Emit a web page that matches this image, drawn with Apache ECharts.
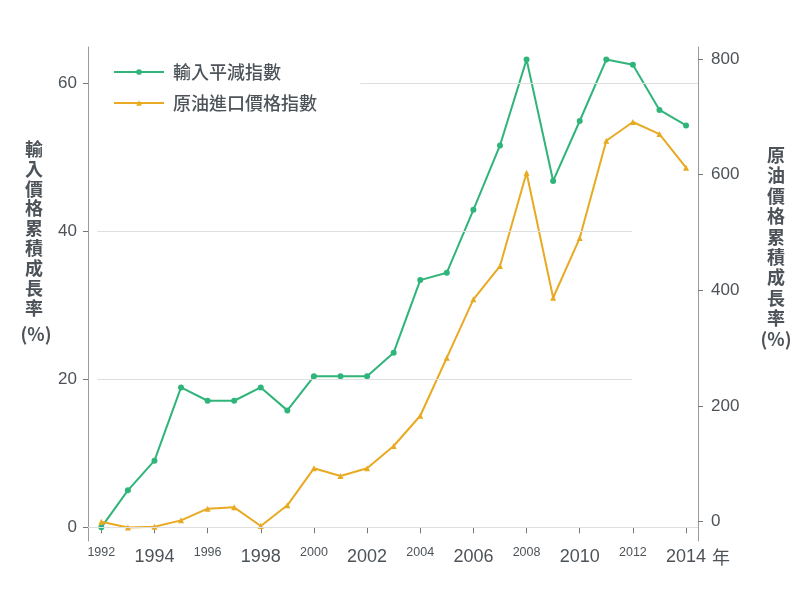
<!DOCTYPE html>
<html>
<head>
<meta charset="utf-8">
<script src="https://cdn.jsdelivr.net/npm/echarts@6/dist/echarts.min.js"></script>
<style>
  html, body { margin: 0; padding: 0; background: #fff; }
  #chart { width: 800px; height: 591px; }
</style>
</head>
<body>
<div id="chart"></div>
<script>
// 年份
const years = [1992, 1993, 1994, 1995, 1996, 1997, 1998, 1999, 2000, 2001, 2002,
  2003, 2004, 2005, 2006, 2007, 2008, 2009, 2010, 2011, 2012, 2013, 2014];
// 輸入平減指數 累積成長率 (%), 左軸
const importDeflator = [0, 5.0, 9.0, 18.9, 17.1, 17.1, 18.9, 15.8, 20.4, 20.4, 20.4,
  23.6, 33.4, 34.4, 42.9, 51.6, 63.2, 46.8, 54.9, 63.2, 62.5, 56.4, 54.3];
// 原油進口價格指數 累積成長率 (%), 右軸
const oilPrice = [0, -10, -8.6, 2.3, 22.5, 24.8, -7.4, 28.3, 92.3, 79, 92.3,
  130.9, 183.2, 283.5, 384.4, 442, 603.3, 387.2, 490.4, 658.6, 691, 670.2, 612];
// 刻度
const xTicks = [1992, 1994, 1996, 1998, 2000, 2002, 2004, 2006, 2008, 2010, 2012, 2014];
const leftTicks = [0, 20, 40, 60];
const rightTicks = [0, 200, 400, 600, 800];

const textColor = '#4d5358';
const numFont = "'Liberation Sans', 'Noto Sans CJK TC', sans-serif";
const cjkFont = "'Noto Sans CJK TC', sans-serif";

const chart = echarts.init(document.getElementById('chart'));

// 參考線 (左軸)
const gridLines = [
  [[1991.5, 0], [2014.45, 0]],
  [[1991.85, 20], [2011.97, 20]],
  [[1991.85, 40], [2011.97, 40]],
  [[2001.74, 60], [2014.45, 60]],
].map(p => [{ coord: p[0] }, { coord: p[1] }]);

const option = {
  animation: false,
  backgroundColor: '#fff',
  grid: { left: 88, right: 102, top: 47, bottom: 50 },
  legend: {
    orient: 'vertical',
    left: 108,
    top: 58,
    itemWidth: 50,
    itemHeight: 7,
    itemGap: 13,
    textStyle: { fontSize: 18, color: textColor, fontFamily: cjkFont, fontWeight: 500, padding: [0, 0, 0, 4] },
    data: ['輸入平減指數', '原油進口價格指數'],
  },
  xAxis: {
    type: 'value',
    min: 1991.5,
    max: 2014.45,
    axisLine: { lineStyle: { color: '#9a9a9a' } },
    axisTick: { customValues: xTicks, length: 6, lineStyle: { color: '#777' } },
    splitLine: { show: false },
    axisLabel: {
      customValues: xTicks,
      margin: 6,
      color: textColor,
      fontFamily: numFont,
      formatter: v => {
        const big = ((v - 1992) / 2) % 2 === 1;
        if (v === 2014) return '{pad|}{b|2014}{y|年}';
        return big ? '{b|' + v + '}' : '{s|' + v + '}';
      },
      rich: {
        s: { fontSize: 12.5, lineHeight: 12, color: textColor, fontFamily: numFont },
        b: { fontSize: 18, lineHeight: 18, padding: [3, 0, 0, 0], color: textColor, fontFamily: numFont },
        pad: { width: 24 },
        y: { fontSize: 18, lineHeight: 18, padding: [3, 0, 0, 6], color: textColor, fontFamily: cjkFont },
      },
    },
  },
  yAxis: [
    {
      type: 'value',
      min: -1.85,
      max: 64.9,
      position: 'left',
      axisLine: { show: true, lineStyle: { color: '#9a9a9a' } },
      axisTick: { show: true, customValues: leftTicks, length: 5, lineStyle: { color: '#777' } },
      axisLabel: { customValues: leftTicks, margin: 11, fontSize: 17, color: textColor, fontFamily: numFont },
      splitLine: { show: false },
    },
    {
      type: 'value',
      min: -33.4,
      max: 820.7,
      position: 'right',
      axisLine: { show: true, lineStyle: { color: '#9a9a9a' } },
      axisTick: { show: true, customValues: rightTicks, length: 5, lineStyle: { color: '#777' } },
      axisLabel: { customValues: rightTicks, margin: 13, fontSize: 17, color: textColor, fontFamily: numFont },
      splitLine: { show: false },
    },
  ],
  series: [
    {
      name: '輸入平減指數',
      type: 'line',
      yAxisIndex: 0,
      data: years.map((y, i) => [y, importDeflator[i]]),
      symbol: 'circle',
      symbolSize: 6,
      lineStyle: { width: 2, color: '#2fb47a' },
      itemStyle: { color: '#2fb47a' },
      markLine: {
        silent: true,
        symbol: 'none',
        label: { show: false },
        lineStyle: { color: '#dedede', width: 1, type: 'solid' },
        data: gridLines,
      },
    },
    {
      name: '原油進口價格指數',
      type: 'line',
      yAxisIndex: 1,
      data: years.map((y, i) => [y, oilPrice[i]]),
      symbol: 'triangle',
      symbolSize: 6,
      lineStyle: { width: 2, color: '#e8aa22' },
      itemStyle: { color: '#e8aa22' },
    },
  ],
  graphic: [
    {
      type: 'text', x: 34, y: 139,
      style: {
        text: '輸\n入\n價\n格\n累\n積\n成\n長\n率',
        font: 'bold 18px ' + cjkFont, lineHeight: 19.9, fill: textColor, align: 'center',
      },
    },
    {
      type: 'text', x: 36, y: 325,
      style: { text: '(%)', font: 'bold 18px ' + cjkFont, fill: textColor, align: 'center' },
    },
    {
      type: 'text', x: 776, y: 145,
      style: {
        text: '原\n油\n價\n格\n累\n積\n成\n長\n率\n(%)',
        font: 'bold 18px ' + cjkFont, lineHeight: 20.4, fill: textColor, align: 'center',
      },
    },
  ],
};

chart.setOption(option);
</script>
</body>
</html>
